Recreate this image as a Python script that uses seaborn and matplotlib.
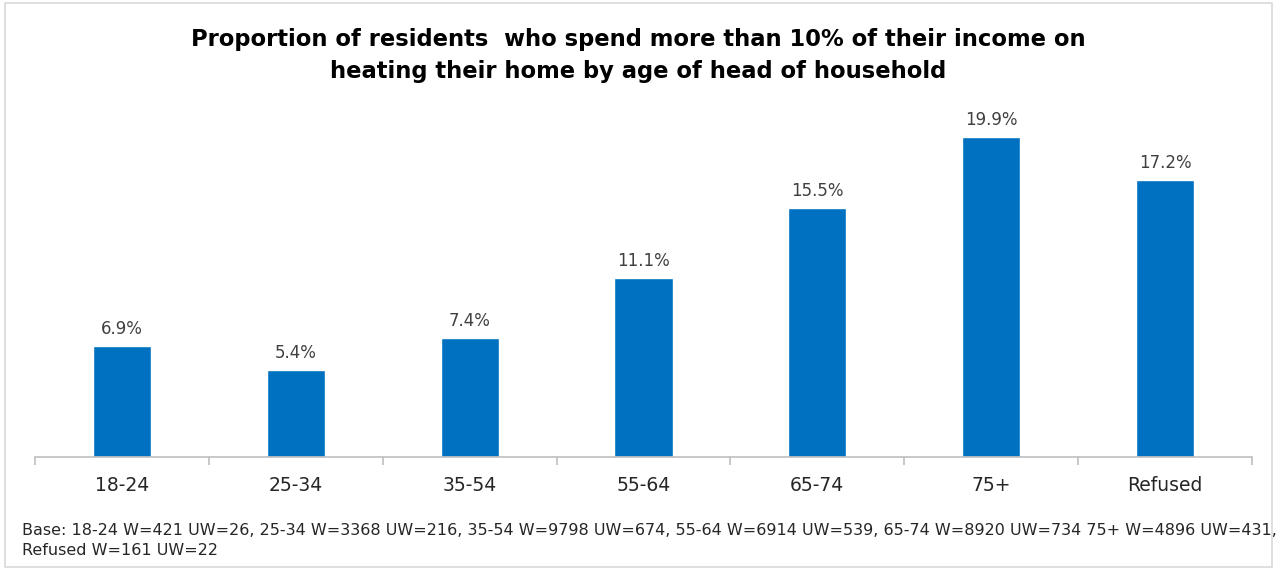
import numpy as np
import pandas as pd
import seaborn as sns
import matplotlib.pyplot as plt
from matplotlib.patches import Rectangle

age_groups = ["18-24", "25-34", "35-54", "55-64", "65-74", "75+", "Refused"]
pct_spend = [6.9, 5.4, 7.4, 11.1, 15.5, 19.9, 17.2]

title = ("Proportion of residents  who spend more than 10% of their income on\n"
         "heating their home by age of head of household")
base_note = ("Base: 18-24 W=421 UW=26, 25-34 W=3368 UW=216, 35-54 W=9798 UW=674, "
             "55-64 W=6914 UW=539, 65-74 W=8920 UW=734 75+ W=4896 UW=431,\n"
             "Refused W=161 UW=22")

df = pd.DataFrame({"age": age_groups, "pct": pct_spend})

sns.set_style("white")
plt.rcParams["font.family"] = ["DejaVu Sans"]

fig = plt.figure(figsize=(12.76, 5.69), dpi=100)
ax = fig.add_axes([0.0274, 0.1968, 0.9538, 0.6275])

sns.barplot(data=df, x="age", y="pct", color="#0070C0", saturation=1,
            width=0.335, ax=ax)

for i, v in enumerate(pct_spend):
    ax.text(i, v + 0.5, f"{v:.1f}%", ha="center", va="bottom",
            fontsize=12, color="#404040")

ax.set_xlim(-0.5, len(age_groups) - 0.5)
ax.set_ylim(0, 22.2)
ax.set_xlabel("")
ax.set_ylabel("")
ax.set_yticks([])
for s in ["left", "right", "top"]:
    ax.spines[s].set_visible(False)
ax.spines["bottom"].set_color("#BFBFBF")
ax.spines["bottom"].set_linewidth(1.2)

ax.set_xticks(np.arange(-0.5, len(age_groups)), minor=True)
ax.tick_params(axis="x", which="minor", length=6, color="#BFBFBF", width=1.2,
               direction="out", bottom=True)
ax.tick_params(axis="x", which="major", length=0, pad=14, labelsize=13.5,
               labelcolor="#262626")

fig.text(0.5, 0.95, title, ha="center", va="top", fontsize=16.3,
         fontweight="bold", color="black", linespacing=1.45)
fig.text(0.017, 0.08, base_note, ha="left", va="top", fontsize=11.5,
         color="#262626", linespacing=1.4)

fig.patches.append(Rectangle((0.004, 0.004), 0.993, 0.99, transform=fig.transFigure,
                             fill=False, edgecolor="#D9D9D9", linewidth=1.2))

fig.savefig("out.png", dpi=100)
